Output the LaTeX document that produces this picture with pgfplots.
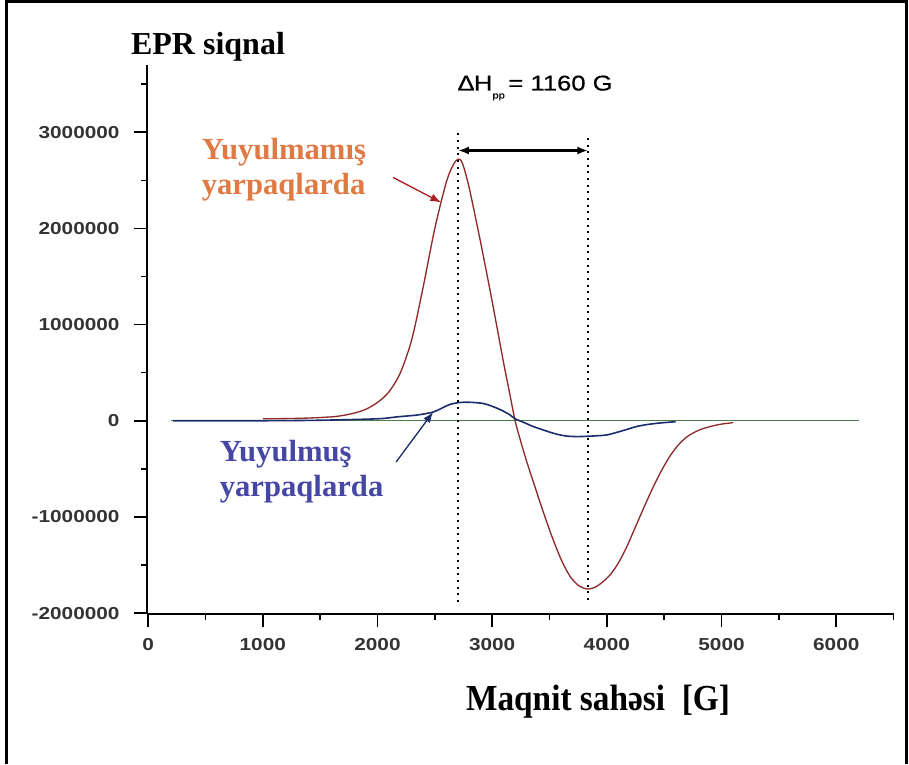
\documentclass[border=0pt]{standalone}
\usepackage{pgfplots}
\pgfplotsset{compat=1.18}
\usepackage{fontspec}
\setmainfont{Liberation Serif}
\newfontfamily\tickfont{Liberation Sans}[FakeStretch=1.2]
\newfontfamily\dhfont{Liberation Sans}[FakeStretch=1.2,FakeBold=0.6]
\usetikzlibrary{arrows.meta}
\definecolor{redcurve}{HTML}{8E2A2A}
\definecolor{bluecurve}{HTML}{1C2C6C}
\definecolor{greencurve}{HTML}{4A7F4A}
\definecolor{orangetext}{HTML}{E07A45}
\definecolor{bluetext}{HTML}{4646A6}
\definecolor{redarrow}{HTML}{A82020}

\pgfplotstableread{
x y
1000 20000
1200 22000
1400 28000
1600 40000
1700 55000
1800 80000
1900 120000
2000 190000
2100 300000
2200 500000
2300 850000
2400 1400000
2500 2000000
2600 2480000
2660 2660000
2703 2720000
2740 2680000
2800 2420000
2900 1850000
3000 1240000
3100 600000
3150 300000
3200 0
3250 -220000
3300 -420000
3360 -640000
3440 -930000
3520 -1200000
3600 -1440000
3680 -1620000
3760 -1720000
3836 -1750000
3900 -1730000
3960 -1680000
4030 -1600000
4100 -1480000
4170 -1320000
4240 -1130000
4320 -910000
4400 -700000
4480 -510000
4560 -350000
4640 -230000
4720 -150000
4820 -90000
4920 -55000
5000 -35000
5100 -20000
}\unwashed

\pgfplotstableread{
x y
218 0
1000 0
1500 5000
2000 20000
2170 40000
2350 60000
2485 90000
2560 130000
2633 170000
2720 190000
2800 192000
2920 180000
3000 150000
3080 110000
3156 60000
3200 20000
3280 -20000
3357 -60000
3430 -90000
3505 -120000
3580 -145000
3653 -160000
3740 -165000
3827 -162000
3920 -156000
4000 -148000
4090 -120000
4176 -90000
4260 -60000
4350 -40000
4450 -25000
4550 -15000
4600 -10000
}\washed

\pgfplotstableread{
x y
200 0
6200 0
}\baseline

\begin{document}
\begin{tikzpicture}[x=1pt,y=1pt]
\useasboundingbox (0,0) rectangle (681.75,573);
\draw[line width=2.25pt] (4.5,0) -- (4.5,571.5) -- (679.5,571.5) -- (679.5,0);
\node[font=\bfseries\fontsize{24}{24}\selectfont] at (156,537.75) {EPR siqnal};
\node[font=\bfseries\fontsize{25}{25}\selectfont] at (448.5,46.5) {\scalebox{1}[1.1]{Maqnit sahəsi\ \ [G]}};
\begin{axis}[
  at={(110.2pt,112.5pt)}, anchor=south west,
  scale only axis, width=560pt, height=411.8pt,
  xmin=-10, xmax=6500, ymin=-2010000, ymax=3700000,
  axis x line=bottom, axis y line=left,
  axis line style={-, line width=1.2pt},
  xtick={0,1000,...,6000}, minor xtick={500,1500,...,6500},
  ytick={-2000000,-1000000,0,1000000,2000000,3000000},
  minor ytick={-1500000,-500000,500000,1500000,2500000,3500000},
  tick align=outside, major tick length=10pt, minor tick length=4.5pt,
  every tick/.append style={line width=1.2pt, black},
  scaled y ticks=false, scaled x ticks=false,
  /pgf/number format/.cd, fixed, 1000 sep={}, assume math mode=true, /pgfplots/.cd,
  ticklabel style={font=\tickfont\bfseries\fontsize{13}{13}\selectfont, text=black!80},
  yticklabel style={xshift=-7pt},
  xticklabel style={yshift=-5pt},
  clip=false,
]
\addplot[greencurve, line width=1pt] table[x=x,y=y] {\baseline};
\addplot[redcurve, line width=1pt, smooth] table[x=x,y=y] {\unwashed};
\addplot[bluecurve, line width=1.2pt, smooth] table[x=x,y=y] {\washed};

\draw[line width=1.2pt, dash pattern=on 1.5pt off 3.5pt] (axis cs:2703,2990000) -- (axis cs:2703,-1910000);
\draw[line width=1.2pt, dash pattern=on 1.5pt off 3.5pt] (axis cs:3836,2940000) -- (axis cs:3836,-1870000);
\draw[line width=1.6pt, {Latex[length=8pt,width=6pt]}-{Latex[length=8pt,width=6pt]}] (axis cs:2703,2810000) -- (axis cs:3836,2810000);
\node[font=\dhfont\fontsize{16}{16}\selectfont] at (axis cs:3374,3460000) {Δ\kern-0.5ptH\raisebox{-6pt}{\fontsize{7}{7}\selectfont pp}\,= 1160 G};

\node[anchor=west, align=left, text=orangetext, font=\bfseries\fontsize{23}{26}\selectfont] at (axis cs:427,2610000) {Yuyulmamış\\yarpaqlarda};
\draw[redarrow, line width=1pt, -{Latex[length=8pt,width=6pt]}] (axis cs:2136,2530000) -- (axis cs:2554,2270000);

\node[anchor=west, align=left, text=bluetext, font=\bfseries\fontsize{23}{26}\selectfont] at (axis cs:584,-530000) {Yuyulmuş\\yarpaqlarda};
\draw[bluecurve, line width=1pt, -{Latex[length=8pt,width=6pt]}] (axis cs:2162,-430000) -- (axis cs:2485,90000);
\end{axis}
\end{tikzpicture}
\end{document}
